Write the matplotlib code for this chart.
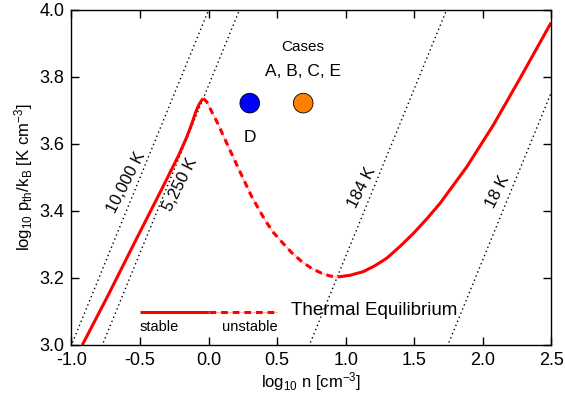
import numpy as np
import matplotlib
matplotlib.use("Agg")
import matplotlib.pyplot as plt

plt.rcParams["font.family"] = ["Liberation Sans", "DejaVu Sans"]
plt.rcParams["mathtext.fontset"] = "custom"
plt.rcParams["mathtext.rm"] = "Liberation Sans"
plt.rcParams["mathtext.it"] = "Liberation Sans"

# thermal equilibrium curve
stable_lo_x = [-0.921, -0.732, -0.537, -0.342, -0.220, -0.160, -0.123, -0.095, -0.075, -0.055, -0.039]
stable_lo_y = [3.0, 3.149, 3.308, 3.465, 3.565, 3.620, 3.660, 3.694, 3.714, 3.728, 3.736]
unstable_x = [-0.039, -0.014, 0.066, 0.144, 0.229, 0.314, 0.411, 0.470, 0.533, 0.605, 0.679,
              0.750, 0.825, 0.885, 0.940]
unstable_y = [3.736, 3.726, 3.662, 3.592, 3.517, 3.443, 3.373, 3.337, 3.308, 3.276, 3.249,
              3.229, 3.214, 3.206, 3.203]
stable_hi_x = [0.940, 1.03, 1.128, 1.210, 1.299, 1.395, 1.493, 1.590, 1.688, 1.883, 2.077, 2.271, 2.497]
stable_hi_y = [3.203, 3.208, 3.219, 3.236, 3.259, 3.294, 3.333, 3.376, 3.423, 3.532, 3.657, 3.796, 3.962]

# isotherms: log p = log n + log T
iso_names = ["10,000 K", "5,250 K", "184 K", "18 K"]
iso_logT = [4.0, 3.775, 2.265, 1.255]
iso_lab_x = [-0.60, -0.21, 1.117, 2.11]
iso_lab_y = [3.484, 3.478, 3.469, 3.457]

# cases
case_x = [0.30, 0.69]
case_y = [3.722, 3.722]
case_col = ["#0000ff", "#ff8000"]

fig, ax = plt.subplots(figsize=(5.65, 3.95), dpi=100)
fig.subplots_adjust(left=0.1265, right=0.976, bottom=0.1266, top=0.9747)

xx = np.array([-1.2, 2.7])
for name, lt, lx, ly in zip(iso_names, iso_logT, iso_lab_x, iso_lab_y):
    ax.plot(xx, xx + lt, color="black", lw=1, linestyle=(0, (1, 2.2)))
    ax.text(lx, ly, name, rotation=63, ha="center", va="center", fontsize=12)

ax.plot(stable_lo_x, stable_lo_y, color="red", lw=2.2, solid_capstyle="butt", solid_joinstyle="round")
ax.plot(stable_hi_x, stable_hi_y, color="red", lw=2.2, solid_capstyle="butt", solid_joinstyle="round")
ax.plot(unstable_x, unstable_y, color="#ffb8b8", lw=0.8)
ax.plot(unstable_x, unstable_y, color="red", lw=2.2, linestyle=(0, (2.2, 1.6)))

ax.scatter(case_x, case_y, s=200, c=case_col, edgecolors="black", linewidths=0.6, zorder=5)
ax.text(0.69, 3.89, "Cases", ha="center", va="center", fontsize=11)
ax.text(0.69, 3.815, "A, B, C, E", ha="center", va="center", fontsize=12.5)
ax.text(0.30, 3.62, "D", ha="center", va="center", fontsize=12.5)

# legend drawn by hand
ax.plot([-0.5, 0.0], [3.098, 3.098], color="red", lw=2.2, solid_capstyle="butt")
ax.plot([0.0, 0.5], [3.098, 3.098], color="#ffb8b8", lw=0.8)
ax.plot([0.0, 0.5], [3.098, 3.098], color="red", lw=2.2, linestyle=(0, (2.2, 1.6)))
ax.text(-0.5, 3.054, "stable", ha="left", va="center", fontsize=10.5)
ax.text(0.5, 3.054, "unstable", ha="right", va="center", fontsize=10.5)
ax.text(0.6, 3.104, "Thermal Equilibrium", ha="left", va="center", fontsize=13.5)

ax.set_xlim(-1.0, 2.5)
ax.set_ylim(3.0, 4.0)
ax.set_xticks([-1.0, -0.5, 0.0, 0.5, 1.0, 1.5, 2.0, 2.5])
ax.set_yticks([3.0, 3.2, 3.4, 3.6, 3.8, 4.0])
ax.set_xticklabels(["-1.0", "-0.5", "0.0", "0.5", "1.0", "1.5", "2.0", "2.5"])
ax.tick_params(direction="in", top=True, right=True, length=6, width=1, labelsize=13, pad=5)
for sp in ax.spines.values():
    sp.set_linewidth(1)

ax.set_xlabel(r"log$_{10}$ n [cm$^{-3}$]", fontsize=12, labelpad=1)
ax.set_ylabel(r"log$_{10}$ p$_{\rm th}$/k$_{\rm B}$ [K cm$^{-3}$]", fontsize=12, labelpad=3)

fig.savefig("out.png", dpi=100)
